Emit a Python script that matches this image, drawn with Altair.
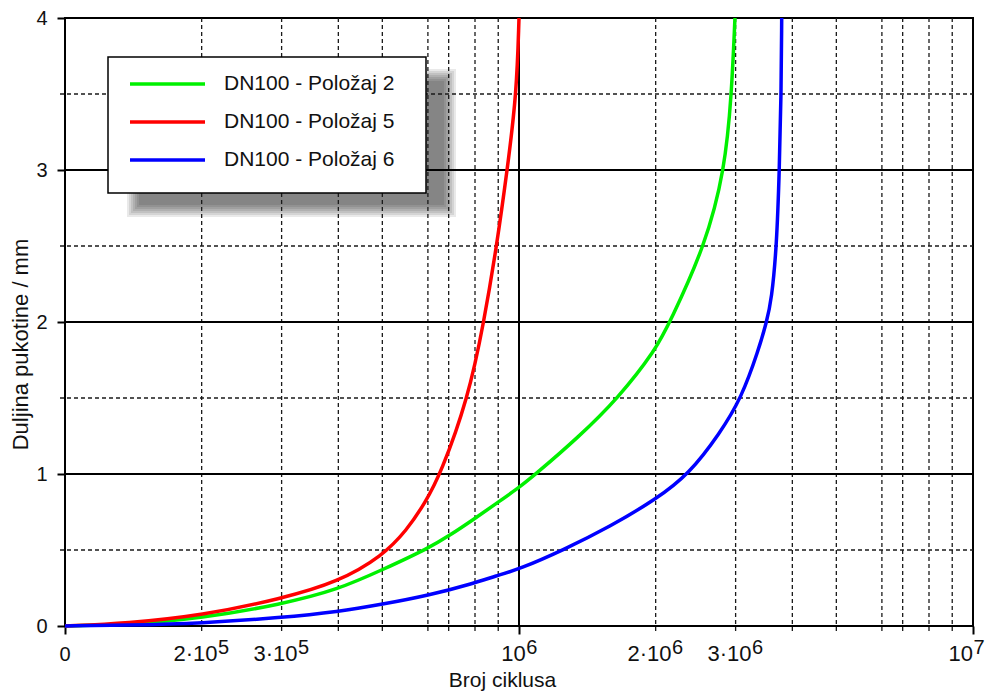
import altair as alt
import pandas as pd

# ---------------- data ----------------
series_names = ["DN100 - Položaj 2", "DN100 - Položaj 5", "DN100 - Položaj 6"]
series_colors = ["#00f000", "#ff0000", "#0000ff"]

cycles_p2 = [1.0e5, 1.37e5, 2.0e5, 3.0e5, 4.0e5, 5.0e5, 6.3e5, 7.07e5, 7.93e5, 8.9e5,
             1.0e6, 1.084e6, 1.35e6, 1.655e6, 2.0e6, 2.15e6, 2.57e6, 2.84e6, 2.94e6, 2.99e6]
crack_p2 = [0.0, 0.01, 0.05, 0.143, 0.24, 0.37, 0.509, 0.6, 0.70, 0.805,
            0.91, 0.995, 1.24, 1.5, 1.816, 2.0, 2.5, 3.0, 3.5, 4.0]

cycles_p5 = [1.0e5, 1.37e5, 2.0e5, 3.0e5, 4.0e5, 5.0e5, 5.66e5, 6.21e5, 6.72e5,
             7.73e5, 8.37e5, 8.93e5, 9.42e5, 9.88e5, 1.0e6]
crack_p5 = [0.0, 0.018, 0.068, 0.18, 0.29, 0.46, 0.63, 0.81, 1.0,
            1.5, 2.0, 2.5, 3.0, 3.5, 4.0]

cycles_p6 = [1.0e5, 1.37e5, 2.0e5, 3.0e5, 4.0e5, 5.0e5, 6.3e5, 7.93e5, 8.9e5, 1.0e6,
             1.252e6, 1.586e6, 2.0e6, 2.37e6, 2.77e6, 3.09e6, 3.37e6, 3.51e6,
             3.6e6, 3.695e6, 3.745e6, 3.78e6, 3.79e6]
crack_p6 = [0.0, 0.005, 0.018, 0.055, 0.094, 0.143, 0.2, 0.28, 0.33, 0.373,
            0.5, 0.654, 0.832, 1.0, 1.268, 1.5, 1.816, 2.0,
            2.145, 2.5, 3.0, 3.5, 4.0]

x_tick_values = [1e5, 2e5, 3e5, 1e6, 2e6, 3e6, 1e7]
x_tick_base = ["0", "2·10", "3·10", "10", "2·10", "3·10", "10"]
x_tick_exp = ["", "5", "5", "6", "6", "6", "7"]
x_major_ticks = [1e5, 1e6, 1e7]
y_tick_values = [0, 1, 2, 3, 4]

x_grid_major = [1e6]
x_grid_minor = [2e5, 3e5, 4e5, 5e5, 6.3e5, 7e5, 8e5, 9e5,
                2e6, 3e6, 4e6, 5e6, 6.3e6, 7e6, 8e6, 9e6]
y_grid_major = [1, 2, 3]
y_grid_minor = [0.5, 1.5, 2.5, 3.5]

x_title = "Broj ciklusa"
y_title = "Duljina pukotine / mm"

# ---------------- styling ----------------
FONT = "Arial, Liberation Sans, Helvetica, sans-serif"
TXT = "#111111"
W, H = 908, 608
PAD_R = 12
PAD_B = 65
BASE_FS, EXP_FS, ZERO_FS = 22, 20, 20

x_enc = alt.X(
    "n:Q",
    title=x_title,
    scale=alt.Scale(type="log", domain=[1e5, 1e7], nice=False),
    axis=alt.Axis(values=x_major_ticks, labels=False, ticks=True, tickSize=8,
                  tickWidth=2, tickColor="black", domain=False, grid=False,
                  titleFont=FONT, titleFontSize=21, titleFontWeight="normal",
                  titleColor=TXT, titleX=437, titleY=60, titleAlign="center",
                  titleBaseline="alphabetic"),
)
y_enc = alt.Y(
    "a:Q",
    title=y_title,
    scale=alt.Scale(domain=[0, 4], nice=False),
    axis=alt.Axis(values=y_tick_values, format="d", labelFont=FONT, labelFontSize=20,
                  labelColor=TXT, labelPadding=10, tickSize=8, tickWidth=2,
                  tickColor="black", domain=False, grid=False,
                  titleFont=FONT, titleFontSize=22, titleFontWeight="normal",
                  titleColor=TXT, titleAngle=270, titleX=-45, titleY=326,
                  titleAlign="center", titleBaseline="middle"),
)

layers = []
one = pd.DataFrame({"k": [0]})

# legend shadow (soft, drawn under the grid)
sx0, sx1, sy0, sy1 = 68, 385, 57, 193
for e in [6, 4, 2, 0, -2, -4, -6]:
    layers.append(
        alt.Chart(one).mark_rect(fill="black", opacity=0.085).encode(
            x=alt.value(sx0 - e), x2=alt.value(sx1 + e),
            y=alt.value(sy0 - e), y2=alt.value(sy1 + e))
    )

# grid lines
layers.append(alt.Chart(pd.DataFrame({"n": x_grid_minor})).mark_rule(
    color="#1a1a1a", strokeWidth=1.3, strokeDash=[4, 3]).encode(
    x=x_enc, y=alt.value(0), y2=alt.value(H + 6)))
layers.append(alt.Chart(pd.DataFrame({"a": y_grid_minor})).mark_rule(
    color="#1a1a1a", strokeWidth=1.3, strokeDash=[4, 3]).encode(
    y=y_enc, x=alt.value(-5), x2=alt.value(W)))
layers.append(alt.Chart(pd.DataFrame({"n": x_grid_major})).mark_rule(
    color="black", strokeWidth=2).encode(
    x=x_enc, y=alt.value(0), y2=alt.value(H)))
layers.append(alt.Chart(pd.DataFrame({"a": y_grid_major})).mark_rule(
    color="black", strokeWidth=2).encode(
    y=y_enc, x=alt.value(0), x2=alt.value(W)))

# curves
for name, col, cx, cy in zip(series_names, series_colors,
                             [cycles_p2, cycles_p5, cycles_p6],
                             [crack_p2, crack_p5, crack_p6]):
    df = pd.DataFrame({"n": cx, "a": cy, "series": name})
    layers.append(alt.Chart(df).mark_line(
        color=col, strokeWidth=3.5, interpolate="basis").encode(
        x=x_enc, y=y_enc, order=alt.Order("n:Q")))

# x tick labels with superscript exponents
digit_w = {"0": 0.556, "1": 0.556, "2": 0.556, "3": 0.556, "4": 0.556, "5": 0.556,
           "6": 0.556, "7": 0.556, "8": 0.556, "9": 0.556, "·": 0.278}


def text_w(s, fs):
    return sum(digit_w.get(c, 0.556) for c in s) * fs


for v, b, ex in zip(x_tick_values, x_tick_base, x_tick_exp):
    d = pd.DataFrame({"n": [v], "t": [b], "e": [ex]})
    if not ex:
        layers.append(alt.Chart(d).mark_text(
            font=FONT, fontSize=ZERO_FS, color=TXT, align="center",
            baseline="alphabetic").encode(x=x_enc, y=alt.value(H + 35), text="t:N"))
        continue
    wb, we = text_w(b, BASE_FS), text_w(ex, EXP_FS)
    off = (wb + we) / 2 - we
    if v >= 1e7:
        # keep the last label inside the drawing
        off = min(off, PAD_R - we - 1)
    layers.append(alt.Chart(d).mark_text(
        font=FONT, fontSize=BASE_FS, color=TXT, align="right", dx=off,
        baseline="alphabetic").encode(x=x_enc, y=alt.value(H + 35), text="t:N"))
    layers.append(alt.Chart(d).mark_text(
        font=FONT, fontSize=EXP_FS, color=TXT, align="left", dx=off + 0.5,
        baseline="alphabetic").encode(x=x_enc, y=alt.value(H + 28), text="e:N"))

# legend box
layers.append(alt.Chart(one).mark_rect(fill="white", stroke="black", strokeWidth=1.5).encode(
    x=alt.value(43), x2=alt.value(361), y=alt.value(39), y2=alt.value(175)))
for i, (name, col) in enumerate(zip(series_names, series_colors)):
    ry = 66 + 38 * i
    dl = pd.DataFrame({"series": [name]})
    layers.append(alt.Chart(dl).mark_rule(color=col, strokeWidth=3.5).encode(
        x=alt.value(65), x2=alt.value(140), y=alt.value(ry)))
    layers.append(alt.Chart(dl).mark_text(
        font=FONT, fontSize=21, color=TXT, align="left", baseline="middle").encode(
        x=alt.value(159), y=alt.value(ry), text="series:N"))

chart = alt.layer(*layers).properties(
    width=W, height=H,
    autosize=alt.AutoSizeParams(type="none"),
    padding={"left": 57, "top": 10, "right": PAD_R, "bottom": PAD_B},
    background="white",
).configure_view(stroke="black", strokeWidth=2)

chart.save("out.html", embed_options={"renderer": "svg", "actions": False})
